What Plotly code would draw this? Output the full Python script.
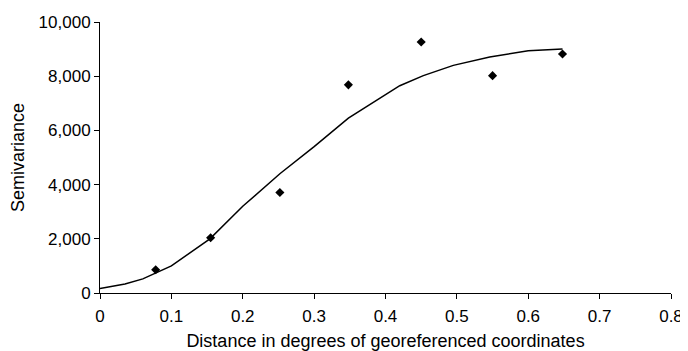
import plotly.graph_objects as go

# Observed semivariance points
lag_distance = [0.078, 0.155, 0.252, 0.348, 0.450, 0.550, 0.648]
semivariance = [860, 2040, 3710, 7680, 9260, 8020, 8820]

# Fitted model curve
model_distance = [0, 0.035, 0.06, 0.1, 0.154, 0.2, 0.252, 0.3, 0.348, 0.374, 0.392, 0.42, 0.453, 0.495, 0.546, 0.6, 0.648]
model_semivariance = [170, 330, 520, 1000, 2000, 3200, 4400, 5400, 6450, 6880, 7170, 7650, 8020, 8400, 8710, 8940, 9000]

x_ticks = [0, 0.1, 0.2, 0.3, 0.4, 0.5, 0.6, 0.7, 0.8]
x_tick_labels = ["0", "0.1", "0.2", "0.3", "0.4", "0.5", "0.6", "0.7", "0.8"]
y_ticks = [0, 2000, 4000, 6000, 8000, 10000]
y_tick_labels = ["0", "2,000", "4,000", "6,000", "8,000", "10,000"]

fig = go.Figure()
fig.add_trace(go.Scatter(
    x=model_distance, y=model_semivariance, mode="lines",
    line=dict(color="black", width=1.5), showlegend=False, hoverinfo="skip"))
fig.add_trace(go.Scatter(
    x=lag_distance, y=semivariance, mode="markers",
    marker=dict(symbol="diamond", size=7, color="black"), showlegend=False))

font = "Liberation Sans, Arial, sans-serif"
# page body has an 8px default margin, so the figure is 8px smaller and margins compensate
fig.update_layout(
    width=680, height=343,
    margin=dict(l=92, r=17, t=14, b=58),
    paper_bgcolor="white", plot_bgcolor="white",
    font=dict(family=font, size=17, color="black"),
    xaxis=dict(range=[0, 0.8], tickvals=x_ticks, ticktext=x_tick_labels, automargin=False,
               showgrid=False, zeroline=False, showline=True, linecolor="black", linewidth=1,
               ticks="outside", ticklen=5, tickcolor="black", ticklabelstandoff=3,
               tickfont=dict(size=17),
               title=dict(text="Distance in degrees of georeferenced coordinates",
                          font=dict(size=18), standoff=15)),
    yaxis=dict(range=[0, 10000], tickvals=y_ticks, ticktext=y_tick_labels, automargin=False,
               showgrid=False, zeroline=False, showline=True, linecolor="black", linewidth=1,
               ticks="outside", ticklen=5, tickcolor="black",
               tickfont=dict(size=17),
               title=dict(text="Semivariance", font=dict(size=18), standoff=11)),
)
fig.write_html("out.html")
